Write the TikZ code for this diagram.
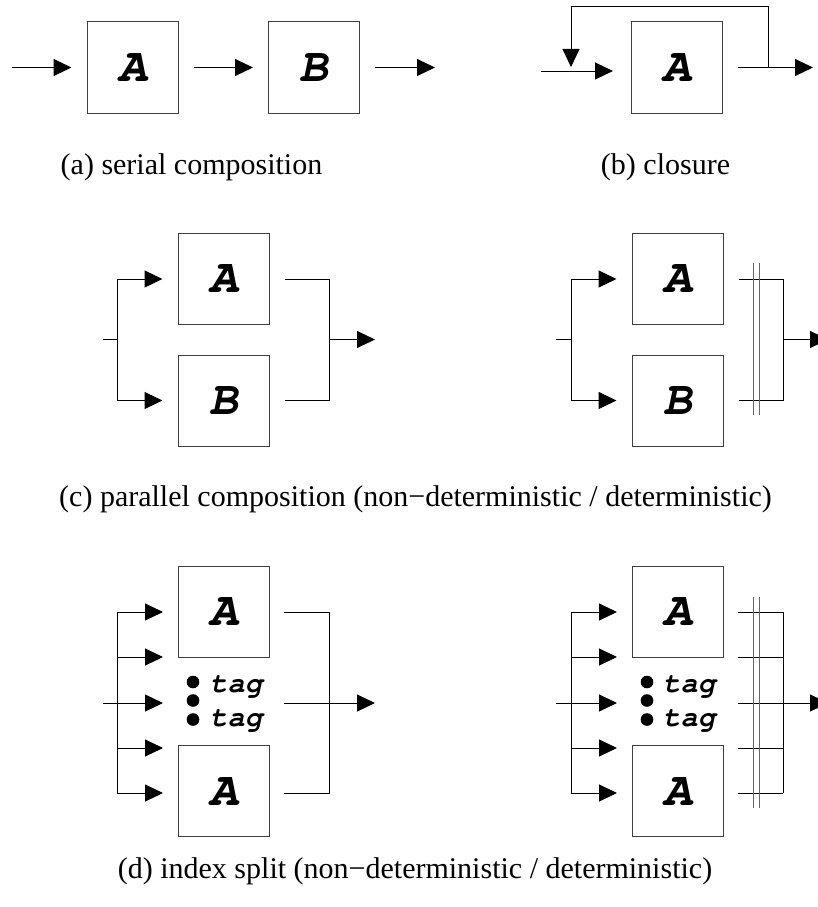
\documentclass[tikz,border=0pt]{standalone}
\usepackage{fontspec}
\setmainfont{Liberation Serif}
\newfontfamily\monof{TeX Gyre Cursor}
\usetikzlibrary{arrows.meta}
\tikzset{
  box/.style={draw=black!75, line width=1pt, minimum width=91pt, minimum height=91pt, inner sep=0pt,
    font=\monof\bfseries\itshape\fontsize{48}{48}\selectfont},
  ln/.style={line width=1pt, black},
  arr/.style={ln, -{Triangle[length=18pt,width=17pt]}},
  dbl/.style={line width=1pt, black!60},
  captxt/.style={anchor=base, inner sep=0pt, font=\fontsize{30}{36}\selectfont},
  tagl/.style={anchor=base west, inner sep=0pt, font=\monof\bfseries\itshape\fontsize{29}{29}\selectfont},
  dotf/.style={fill=black}
}
\begin{document}
\begin{tikzpicture}[x=1pt,y=-1pt]
\useasboundingbox (0,0) rectangle (817,907);
% ---------- (a) ----------
\node[box] (a1) at (132.5,67.5) {A};
\node[box] (a2) at (314,67.5) {B};
\coordinate (ain) at (12,67.5);
\coordinate (aout) at (435,67.5);
\draw[arr, shorten >=15pt] (ain) -- (a1);
\draw[arr, shorten <=15pt, shorten >=15pt] (a1) -- (a2);
\draw[arr, shorten <=15pt] (a2) -- (aout);
\node[captxt] (capa) at (191.5,174) {(a) serial composition};
% ---------- (b) ----------
\node[box] (b1) at (677,67.5) {A};
\coordinate (bin) at (541,71);
\coordinate (bintip) at (613,71);
\coordinate (bj) at (768,67.5);
\coordinate (bout) at (813,67.5);
\coordinate (btop) at (768,7);
\coordinate (bfb) at (571,67);
\draw[arr] (bin) -- (bintip);
\draw[arr, shorten <=15pt] (b1.east) -- (bout);
\draw[arr] (bj) -- (btop) -| (bfb);
\node[captxt] (capb) at (665.5,174) {(b) closure};
% ---------- (c) left ----------
\node[box] (c1) at (223.5,279) {A};
\node[box] (c2) at (223.5,400.5) {B};
\coordinate (cin) at (103,339.5);
\coordinate (cs) at (117,339.5);
\coordinate (cj) at (329,339.5);
\coordinate (cout) at (375,339.5);
\draw[ln] (cin) -- (cs);
\draw[arr, shorten >=15pt] (cs) |- (c1.west);
\draw[arr, shorten >=15pt] (cs) |- (c2.west);
\draw[ln, shorten <=15pt] (c1.east) -| (cj);
\draw[ln, shorten <=15pt] (c2.east) -| (cj);
\draw[arr] (cj) -- (cout);
% ---------- (c) right ----------
\node[box] (c3) at (677.5,279) {A};
\node[box] (c4) at (677.5,400.5) {B};
\coordinate (cin2) at (556,339.5);
\coordinate (cs2) at (571,339.5);
\coordinate (cj2) at (783,339.5);
\coordinate (cout2) at (828,339.5);
\coordinate (cd1t) at (753,263);
\coordinate (cd1b) at (753,415);
\coordinate (cd2t) at (759,263);
\coordinate (cd2b) at (759,415);
\draw[ln] (cin2) -- (cs2);
\draw[arr, shorten >=15pt] (cs2) |- (c3.west);
\draw[arr, shorten >=15pt] (cs2) |- (c4.west);
\draw[ln, shorten <=15pt] (c3.east) -| (cj2);
\draw[ln, shorten <=15pt] (c4.east) -| (cj2);
\draw[arr] (cj2) -- (cout2);
\draw[dbl] (cd1t) -- (cd1b);
\draw[dbl] (cd2t) -- (cd2b);
\node[captxt] (capc) at (415.5,506) {(c) parallel composition (non−deterministic / deterministic)};
% ---------- (d) left ----------
\node[box] (d1) at (223.5,612) {A};
\node[box] (d2) at (223.5,791) {A};
\foreach \i/\y in {1/612,2/657,3/703,4/748,5/793}{
  \coordinate (dl\i) at (117,\y);
  \coordinate (dt\i) at (163,\y);
  \coordinate (do\i) at (284,\y);
  \coordinate (dr\i) at (329,\y);
  \coordinate (el\i) at (571,\y);
  \coordinate (et\i) at (617,\y);
  \coordinate (eo\i) at (738,\y);
  \coordinate (er\i) at (783,\y);
}
\coordinate (din) at (103,703);
\coordinate (dout) at (375,703);
\draw[ln] (dl1) -- (dl5);
\draw[arr] (din) -- (dt3);
\foreach \i in {1,2,4,5}{ \draw[arr] (dl\i) -- (dt\i); }
\draw[ln] (do1) -- (dr1) -- (dr5) -- (do5);
\draw[ln] (do3) -- (dr3);
\draw[arr] (dr3) -- (dout);
\fill[dotf] (193,682) circle (6.3);
\fill[dotf] (193,700.5) circle (6.3);
\fill[dotf] (193,719.5) circle (6.3);
\node[tagl] (tg1) at (210,692) {tag};
\node[tagl] (tg2) at (210,726) {tag};
% ---------- (d) right ----------
\node[box] (d3) at (677.5,612) {A};
\node[box] (d4) at (677.5,791) {A};
\coordinate (ein) at (556,703);
\coordinate (eout) at (828,703);
\coordinate (ed1t) at (753,597);
\coordinate (ed1b) at (753,808);
\coordinate (ed2t) at (759,597);
\coordinate (ed2b) at (759,808);
\draw[ln] (el1) -- (el5);
\draw[arr] (ein) -- (et3);
\foreach \i in {1,2,4,5}{ \draw[arr] (el\i) -- (et\i); }
\foreach \i in {1,2,3,4,5}{ \draw[ln] (eo\i) -- (er\i); }
\draw[ln] (er1) -- (er5);
\draw[arr] (er3) -- (eout);
\draw[dbl] (ed1t) -- (ed1b);
\draw[dbl] (ed2t) -- (ed2b);
\fill[dotf] (647,682) circle (6.3);
\fill[dotf] (647,700.5) circle (6.3);
\fill[dotf] (647,719.5) circle (6.3);
\node[tagl] (tg3) at (663,692) {tag};
\node[tagl] (tg4) at (663,726) {tag};
\node[captxt] (capd) at (415,878) {(d) index split (non−deterministic / deterministic)};
\end{tikzpicture}
\end{document}
